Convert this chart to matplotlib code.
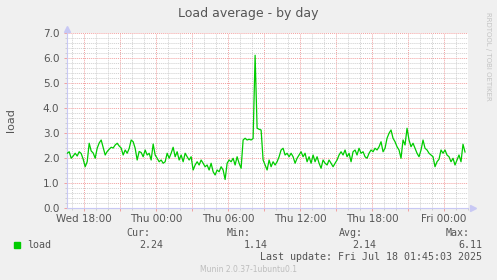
import matplotlib

matplotlib.use("Agg")

import matplotlib.dates as mdates
import matplotlib.pyplot as plt
import matplotlib.ticker as mticker
import pandas as pd
from matplotlib.patches import Rectangle

# load average, one sample every 10 minutes from Wed 16:35 to Fri 01:45
START = "2025-07-16 16:35"
STEP = "10min"
load = [
    2.19, 2.25, 1.99, 2.08, 2.19, 2.08, 2.25, 2.18, 1.95, 1.65,
    1.85, 2.59, 2.28, 2.20, 1.99, 2.39, 2.60, 2.72, 2.42, 2.12,
    2.26, 2.35, 2.43, 2.40, 2.52, 2.59, 2.48, 2.40, 2.12, 2.32,
    2.19, 2.38, 2.72, 2.65, 2.39, 1.92, 2.26, 2.22, 2.05, 2.32,
    2.12, 2.19, 1.92, 2.56, 2.12, 1.99, 1.85, 1.92, 1.79, 1.85,
    2.19, 1.99, 2.19, 2.43, 2.05, 2.25, 1.92, 2.12, 1.85, 2.19,
    2.05, 1.92, 2.05, 1.52, 1.72, 1.85, 1.72, 1.92, 1.79, 1.65,
    1.72, 1.52, 1.79, 1.45, 1.32, 1.52, 1.45, 1.65, 1.52, 1.14,
    1.79, 1.92, 1.85, 1.99, 1.72, 2.05, 1.79, 1.59, 2.72, 2.79,
    2.72, 2.75, 2.72, 2.78, 6.11, 3.19, 3.15, 3.12, 1.92, 1.72,
    1.52, 1.92, 1.65, 1.85, 1.72, 1.85, 2.05, 2.32, 2.39, 2.12,
    2.19, 2.05, 2.19, 2.05, 1.79, 1.99, 2.12, 2.25, 2.05, 2.19,
    1.85, 2.05, 1.79, 2.12, 1.85, 2.05, 1.79, 1.59, 1.92, 1.79,
    1.72, 1.92, 1.79, 1.65, 1.79, 1.92, 2.12, 2.25, 2.12, 2.32,
    2.05, 2.19, 1.85, 2.25, 2.32, 2.12, 2.39, 2.19, 2.25, 2.05,
    1.99, 2.19, 2.32, 2.25, 2.39, 2.32, 2.45, 2.65, 2.25, 2.39,
    2.79, 2.99, 3.12, 2.79, 2.65, 2.45, 2.32, 1.99, 2.72, 2.52,
    3.19, 2.72, 2.45, 2.59, 2.39, 2.19, 2.05, 2.32, 2.72, 2.39,
    2.32, 2.19, 2.12, 2.05, 1.65, 1.85, 1.95, 2.32, 2.19, 2.32,
    2.12, 2.05, 1.85, 1.99, 1.72, 1.92, 2.12, 1.85, 2.55, 2.24,
]

stat_names = ["Cur:", "Min:", "Avg:", "Max:"]
stat_values = ["2.24", "1.14", "2.14", "6.11"]

TITLE = "Load average - by day"
SERIES = "load"
LAST_UPDATE = "Last update: Fri Jul 18 01:45:03 2025"
VERSION = "Munin 2.0.37-1ubuntu0.1"

BACK = "#F0F0F0"
LINE = "#00CC00"
MAJOR = "#F2A0A0"
MINOR = "#CFCFCF"
AXIS = "#C8C8F4"
TEXT = "#555555"

W, H = 497, 280


def fx(px):
    return px / W


def fy(py):
    return 1 - py / H


times = pd.date_range(START, periods=len(load), freq=STEP)

fig = plt.figure(figsize=(W / 100, H / 100), dpi=100, facecolor=BACK)
ax = fig.add_axes([fx(67), fy(208), 401 / W, 175 / H])
ax.set_facecolor("white")

ax.plot(times, load, color=LINE, linewidth=0.9, zorder=3)

ax.set_xlim(pd.Timestamp("2025-07-16 16:34"), pd.Timestamp("2025-07-18 02:00"))
ax.set_ylim(0, 7)

ax.xaxis.set_major_locator(mdates.HourLocator(byhour=range(0, 24, 3)))
ax.xaxis.set_minor_locator(mdates.HourLocator())


def time_label(v, pos):
    d = mdates.num2date(v)
    return d.strftime("%a %H:%M") if d.hour % 6 == 0 else ""


ax.xaxis.set_major_formatter(mticker.FuncFormatter(time_label))
ax.yaxis.set_major_locator(mticker.MultipleLocator(1))
ax.yaxis.set_minor_locator(mticker.MultipleLocator(0.2))
ax.yaxis.set_major_formatter(mticker.FormatStrFormatter("%.1f"))

ax.set_axisbelow(True)
ax.grid(which="minor", color=MINOR, linestyle=(0, (1, 1)), linewidth=0.7)
ax.grid(which="major", color=MAJOR, linestyle=(0, (1, 1)), linewidth=0.7)

ax.tick_params(which="major", length=2.5, width=0.7, color=MAJOR,
               labelcolor=TEXT, labelsize=7.5)
ax.tick_params(which="minor", length=1.5, width=0.7, color=MINOR)
ax.tick_params(axis="x", which="major", pad=2)
ax.tick_params(axis="y", which="major", pad=3)

for side in ["top", "right"]:
    ax.spines[side].set_visible(False)
for side in ["left", "bottom"]:
    ax.spines[side].set_color(AXIS)
    ax.spines[side].set_linewidth(0.8)

# axis arrows, rrdtool style
ax.plot(1.012, 0, marker=">", ms=4, color=AXIS, transform=ax.transAxes, clip_on=False)
ax.plot(0, 1.025, marker="^", ms=4, color=AXIS, transform=ax.transAxes, clip_on=False)

fig.text(fx(248), fy(13), TITLE, ha="center", va="center", fontsize=9, color=TEXT)
fig.text(fx(11), fy(120), SERIES, rotation=90, ha="center", va="center",
         fontsize=8, color=TEXT)
fig.text(fx(488), fy(56), "RRDTOOL / TOBI OETIKER", rotation=270, ha="center",
         va="center", fontsize=5, color="#C4C4C4")

# legend block
mono = dict(family="DejaVu Sans Mono", fontsize=7.2, color=TEXT)
fig.patches.append(Rectangle((fx(14), fy(248)), 6 / W, 6 / H,
                             transform=fig.transFigure, color=LINE))
fig.text(fx(27), fy(245), SERIES, ha="left", va="center", **mono)

head_x = [150, 251, 363, 470]
value_x = [163, 268, 376, 482]
for name, value, hx, vx in zip(stat_names, stat_values, head_x, value_x):
    fig.text(fx(hx), fy(233), name, ha="right", va="center", **mono)
    fig.text(fx(vx), fy(245), value, ha="right", va="center", **mono)

fig.text(fx(482), fy(257), LAST_UPDATE, ha="right", va="center", **mono)
fig.text(fx(248), fy(269), VERSION, ha="center", va="center", fontsize=5.5,
         color="#BDBDBD")

fig.savefig("out.png", dpi=100, facecolor=BACK)
